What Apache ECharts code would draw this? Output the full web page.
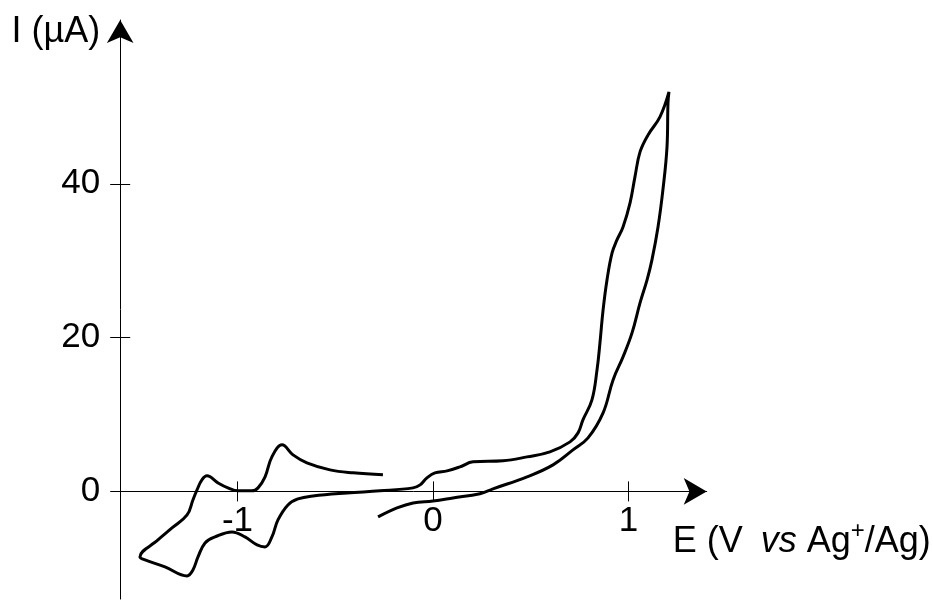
<!DOCTYPE html>
<html>
<head>
<meta charset="utf-8">
<script src="https://cdn.jsdelivr.net/npm/echarts@6/dist/echarts.min.js"></script>
<style>
html,body{margin:0;padding:0;background:#fff;}
#chart_cv{width:933px;height:600px;}
</style>
</head>
<body>
<div id="chart_cv"></div>
<script>
// potential (V vs Ag+/Ag) and current (uA)
var potential = [
    -0.256,-0.409,-0.527,-0.645,-0.716,-0.772,-0.824,-0.859,-0.895,-0.926,
    -0.997,-1.049,-1.100,-1.156,-1.182,-1.207,-1.228,-1.258,-1.335,-1.407,
    -1.499,-1.473,-1.371,-1.258,-1.228,-1.202,-1.166,-1.115,-1.028,-0.962,
    -0.900,-0.859,-0.824,-0.793,-0.742,-0.691,-0.614,-0.440,-0.271,-0.102,
    -0.066,-0.031,0.010,0.072,0.138,0.205,0.358,0.481,0.598,0.701,
    0.742,0.767,0.813,0.839,0.854,0.870,0.890,0.916,0.941,0.972,
    1.008,1.033,1.059,1.100,1.161,1.207,1.202,1.197,1.176,1.151,
    1.120,1.095,1.059,1.018,0.972,0.921,0.870,0.793,0.716,0.614,
    0.481,0.307,0.240,0.102,0.000,-0.102,-0.184,-0.281
];
var current = [
    2.15,2.41,2.80,3.71,4.75,6.05,4.49,1.89,0.46,0.07,
    0.07,0.46,1.11,2.02,1.50,0.20,-1.11,-3.06,-4.75,-6.31,
    -8.52,-8.91,-9.82,-10.99,-10.21,-8.52,-6.70,-5.92,-5.27,-5.92,
    -6.96,-7.22,-5.92,-3.71,-1.76,-0.98,-0.59,-0.20,0.07,0.46,
    0.85,1.76,2.41,2.67,3.19,3.84,3.97,4.49,5.14,6.44,
    7.61,9.30,11.90,15.80,19.31,23.60,27.50,31.01,32.70,34.39,
    37.52,40.90,44.15,46.36,48.70,51.95,50.52,44.80,39.21,34.39,
    30.10,27.50,24.51,20.61,17.49,14.50,10.21,6.96,5.40,3.45,
    1.89,0.33,-0.30,-0.85,-1.24,-1.50,-2.15,-3.32
];
var xTicks = [-1, 0, 1];
var yTicks = [0, 20, 40];

var cvData = [];
for (var i = 0; i < potential.length; i++) {
    cvData.push([potential[i], current[i]]);
}

var xMin = -1.6, xMax = 1.4;
var yMin = -14, yMax = 61.3;
var pxPerV = 195.5, pxPerUA = 7.69;
var gridLeft = 120.2, gridTop = 20;
var gridWidth = (xMax - xMin) * pxPerV;
var gridHeight = (yMax - yMin) * pxPerUA;
var font = '"Liberation Sans", Arial, sans-serif';

var chart_cv = echarts.init(document.getElementById('chart_cv'));
chart_cv.setOption({
    animation: false,
    textStyle: {fontFamily: font, color: '#000'},
    grid: {
        left: gridLeft,
        width: gridWidth,
        top: gridTop,
        height: gridHeight,
        containLabel: false,
        outerBoundsMode: 'none'
    },
    xAxis: [
        {
            type: 'value', position: 'bottom',
            offset: yMin * pxPerUA,
            min: xMin, max: xMax,
            splitLine: {show: false},
            axisLine: {onZero: false, lineStyle: {color: '#000', width: 1}, symbol: ['none', 'arrow'], symbolSize: [20, 23]},
            axisTick: {show: true, length: 10, customValues: xTicks, lineStyle: {color: '#000'}},
            axisLabel: {customValues: xTicks, fontSize: 35, color: '#000', margin: 12, fontFamily: font},
            name: '{t|E (V }{it|vs}{t| Ag}{sup|+}{t|/Ag)}',
            nameLocation: 'end',
            nameGap: -34,
            nameTextStyle: {
                align: 'left', verticalAlign: 'top', padding: [28, 0, 0, 0],
                rich: {
                    t: {fontSize: 36, fontFamily: font, color: '#000'},
                    it: {fontSize: 36, fontFamily: font, color: '#000', fontStyle: 'italic', padding: [0, 0, 0, 8]},
                    sup: {fontSize: 24, fontFamily: font, color: '#000', padding: [0, 0, 22, 0]}
                }
            }
        },
        {
            type: 'value', position: 'top',
            offset: -yMax * pxPerUA,
            min: xMin, max: xMax,
            splitLine: {show: false},
            axisLine: {show: false, onZero: false},
            axisTick: {show: true, length: 10, customValues: xTicks, lineStyle: {color: '#000'}},
            axisLabel: {show: false}
        }
    ],
    yAxis: [
        {
            type: 'value', position: 'left',
            min: yMin, max: yMax,
            splitLine: {show: false},
            axisLine: {onZero: false, lineStyle: {color: '#000', width: 1}, symbol: ['none', 'arrow'], symbolSize: [20, 23]},
            axisTick: {show: true, length: 10, customValues: yTicks, lineStyle: {color: '#000'}},
            axisLabel: {customValues: yTicks, fontSize: 35, color: '#000', margin: 20, fontFamily: font},
            name: 'I (µA)',
            nameLocation: 'end',
            nameGap: -12,
            nameTextStyle: {fontSize: 36, fontFamily: font, color: '#000', align: 'right', verticalAlign: 'middle', padding: [0, 20, 0, 0]}
        },
        {
            type: 'value', position: 'right',
            offset: -gridWidth,
            min: yMin, max: yMax,
            splitLine: {show: false},
            axisLine: {show: false, onZero: false},
            axisTick: {show: true, length: 10, customValues: yTicks, lineStyle: {color: '#000'}},
            axisLabel: {show: false}
        }
    ],
    series: [
        {
            name: 'CV', type: 'line',
            xAxisIndex: 0, yAxisIndex: 0,
            data: cvData,
            showSymbol: false,
            smooth: 0.4,
            lineStyle: {color: '#000', width: 3},
            itemStyle: {color: '#000'}
        }
    ]
});
</script>
</body>
</html>
